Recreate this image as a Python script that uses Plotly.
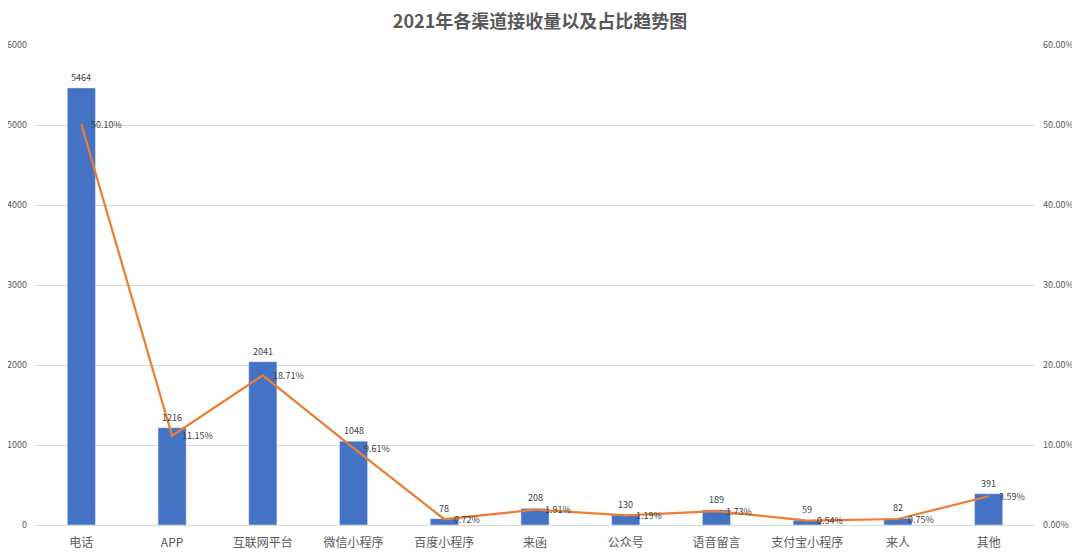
import plotly.graph_objects as go

categories = ["电话", "APP", "互联网平台", "微信小程序", "百度小程序", "来函", "公众号", "语音留言", "支付宝小程序", "来人", "其他"]
counts = [5464, 1216, 2041, 1048, 78, 208, 130, 189, 59, 82, 391]
shares = [0.5010, 0.1115, 0.1871, 0.0961, 0.0072, 0.0191, 0.0119, 0.0173, 0.0054, 0.0075, 0.0359]
share_labels = ["50.10%", "11.15%", "18.71%", "9.61%", "0.72%", "1.91%", "1.19%", "1.73%", "0.54%", "0.75%", "3.59%"]

font_family = "Noto Sans CJK SC, Noto Sans, sans-serif"
gray = "#595959"
label_color = "#404040"

fig = go.Figure()
fig.add_trace(go.Bar(
    x=categories, y=counts, marker_color="#4472C4", width=0.31, yaxis="y",
))
fig.add_trace(go.Scatter(
    x=categories, y=shares, mode="lines", yaxis="y2",
    line=dict(color="#ED7D31", width=2.25),
))

annotations = []
for c, v in zip(categories, counts):
    annotations.append(dict(x=c, y=v, xref="x", yref="y", text=str(v), showarrow=False,
                            xanchor="center", yanchor="bottom", yshift=2,
                            font=dict(size=9, color=label_color)))
for c, s, t in zip(categories, shares, share_labels):
    annotations.append(dict(x=c, y=s, xref="x", yref="y2", text=t, showarrow=False,
                            xanchor="left", yanchor="middle", xshift=8,
                            font=dict(size=9, color=label_color)))

fig.update_layout(
    width=1080, height=557,
    margin=dict(l=28, r=54, t=37, b=40, autoexpand=False),
    paper_bgcolor="white", plot_bgcolor="white",
    showlegend=False,
    font=dict(family=font_family, color=gray),
    title=dict(text="<b>2021年各渠道接收量以及占比趋势图</b>", x=0.4926, xanchor="center",
               xref="container", y=0.975, yanchor="middle", font=dict(size=18, color=gray)),
    xaxis=dict(tickfont=dict(size=12, color=gray), showline=True, linecolor="#d9d9d9",
               ticks="", showgrid=False, automargin=False, ticklabelstandoff=7),
    yaxis=dict(range=[0, 6000], dtick=1000, tickfont=dict(size=9, color=gray),
               showgrid=True, gridcolor="#d9d9d9", zeroline=False, ticks="",
               ticklabelstandoff=8, automargin=False),
    yaxis2=dict(range=[0, 0.6], dtick=0.1, tickformat=".2%", overlaying="y", side="right",
                tickfont=dict(size=9, color=gray), showgrid=False, zeroline=False,
                ticklabelstandoff=8, automargin=False),
    bargap=0.69,
    annotations=annotations,
)

fig.write_html("out.html")
